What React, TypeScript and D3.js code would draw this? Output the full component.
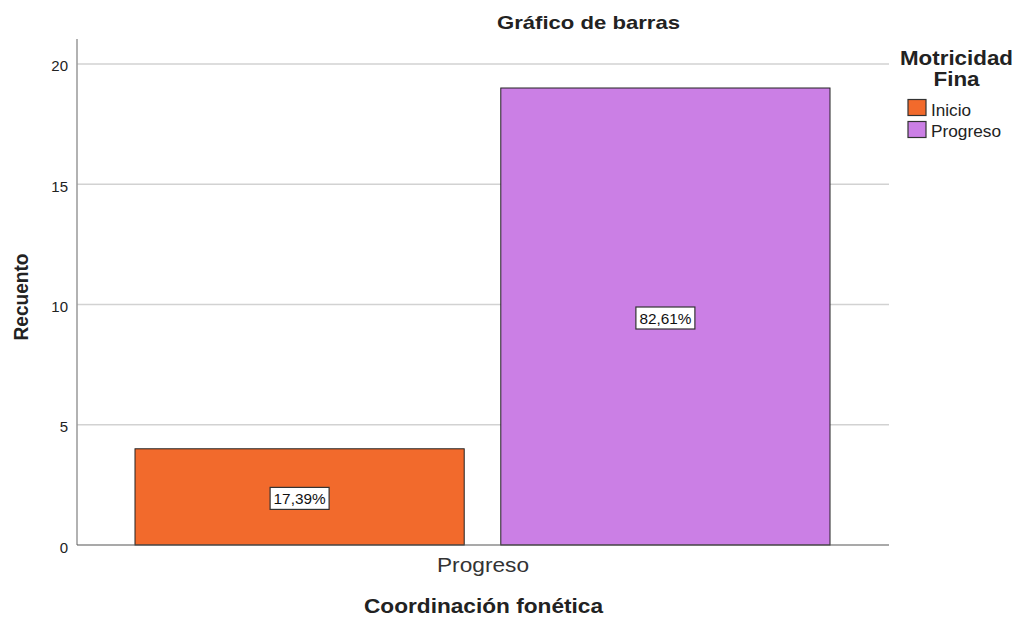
import React from "react";
import * as d3 from "d3";

const categories = ["Progreso"];
const series = ["Inicio", "Progreso"];
const counts = [4, 19];
const percentLabels = ["17,39%", "82,61%"];
const colors = ["#f26a2c", "#cb7fe5"];
const yTicks = [0, 5, 10, 15, 20];

const W = 1016, H = 617;
const plotLeft = 77, plotRight = 889, plotTop = 39, plotBottom = 545;

export default function App() {
  const y = d3.scaleLinear().domain([0, 21]).range([plotBottom, plotTop + 0.9]);
  const xCat = d3.scaleBand().domain(categories).range([plotLeft, plotRight]);
  const x = d3.scaleBand().domain(series).range([135, 830]).paddingInner(0.1);
  const font = "'Liberation Sans', Arial, sans-serif";
  const legendW = [40, 70];
  const adj = "spacingAndGlyphs";
  return (
    <svg width={W} height={H} style={{ position: "absolute", left: 0, top: 0, background: "#fff" }} fontFamily={font}>
      <text x={588.5} y={29} textAnchor="middle" fontSize={18.5} fontWeight="bold" fill="#222" textLength={183} lengthAdjust={adj}>Gráfico de barras</text>
      {yTicks.map((t) => (
        <g key={t}>
          {t > 0 && <line x1={plotLeft} x2={plotRight} y1={y(t)} y2={y(t)} stroke="#d2d2d2" strokeWidth={1.5} />}
          <text x={68} y={y(t) + 7.5} textAnchor="end" fontSize={15} fill="#222">{t}</text>
        </g>
      ))}
      <line x1={plotLeft} x2={plotLeft} y1={plotTop} y2={plotBottom} stroke="#999" strokeWidth={1.5} />
      {series.map((s, i) => (
        <g key={s}>
          <rect x={x(s)} y={y(counts[i])} width={x.bandwidth()} height={y(0) - y(counts[i])} fill={colors[i]} stroke="#222" strokeWidth={1} />
        </g>
      ))}
      <line x1={plotLeft} x2={plotRight} y1={plotBottom} y2={plotBottom} stroke="#555" strokeWidth={1.2} />
      {series.map((s, i) => {
        const cx = (x(s) as number) + x.bandwidth() / 2;
        const cy = (y(counts[i]) + y(0)) / 2 + 1.5;
        const w = 59, h = 22;
        return (
          <g key={"l" + s}>
            <rect x={cx - w / 2} y={cy - h / 2} width={w} height={h} fill="#fff" stroke="#333" strokeWidth={1.2} />
            <text x={cx} y={cy + 5.5} textAnchor="middle" fontSize={15} fill="#111" textLength={52} lengthAdjust={adj}>{percentLabels[i]}</text>
          </g>
        );
      })}
      {categories.map((c) => (
        <text key={c} x={(xCat(c) as number) + xCat.bandwidth() / 2} y={572} textAnchor="middle" fontSize={20} fill="#333" textLength={92} lengthAdjust={adj}>{c}</text>
      ))}
      <text x={483.5} y={613} textAnchor="middle" fontSize={19.5} fontWeight="bold" fill="#222" textLength={239} lengthAdjust={adj}>Coordinación fonética</text>
      <text transform="translate(28,297) rotate(-90)" textAnchor="middle" fontSize={20} fontWeight="bold" fill="#222" textLength={87} lengthAdjust={adj}>Recuento</text>
      <text x={956.5} y={65} textAnchor="middle" fontSize={19.5} fontWeight="bold" fill="#222" textLength={113} lengthAdjust={adj}>Motricidad</text>
      <text x={956.5} y={86} textAnchor="middle" fontSize={19.5} fontWeight="bold" fill="#222" textLength={46} lengthAdjust={adj}>Fina</text>
      {series.map((s, i) => (
        <g key={"lg" + s}>
          <rect x={908} y={99.5 + i * 22} width={18} height={16} fill={colors[i]} stroke="#333" strokeWidth={1.2} />
          <text x={931} y={115.5 + i * 21} fontSize={16} fill="#222" textLength={legendW[i]} lengthAdjust={adj}>{s}</text>
        </g>
      ))}
    </svg>
  );
}
